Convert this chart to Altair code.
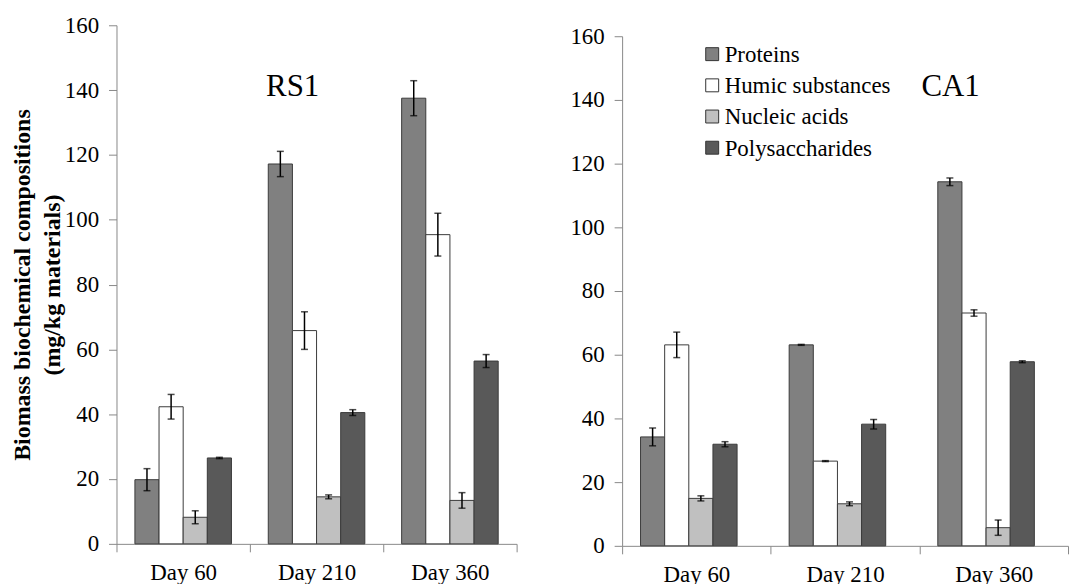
import altair as alt
import pandas as pd

days = ["Day 60", "Day 210", "Day 360"]
components = ["Proteins", "Humic substances", "Nucleic acids", "Polysaccharides"]
colors = ["#808080", "#ffffff", "#c0c0c0", "#595959"]

# RS1 means and standard errors (per component, for Day 60, 210, 360)
rs1_proteins = [19.8, 117.2, 137.5]
rs1_humic = [42.3, 65.8, 95.4]
rs1_nucleic = [8.2, 14.5, 13.4]
rs1_poly = [26.5, 40.5, 56.4]
rs1_proteins_err = [3.4, 3.9, 5.4]
rs1_humic_err = [3.8, 5.8, 6.6]
rs1_nucleic_err = [2.0, 0.6, 2.4]
rs1_poly_err = [0.2, 0.9, 2.0]

# CA1 means and standard errors
ca1_proteins = [34.2, 63.1, 114.3]
ca1_humic = [63.1, 26.6, 73.1]
ca1_nucleic = [14.9, 13.2, 5.7]
ca1_poly = [31.9, 38.2, 57.8]
ca1_proteins_err = [2.8, 0.15, 1.2]
ca1_humic_err = [4.0, 0.15, 1.0]
ca1_nucleic_err = [0.8, 0.6, 2.4]
ca1_poly_err = [0.8, 1.5, 0.3]

y_ticks = [0, 20, 40, 60, 80, 100, 120, 140, 160]

FONT = "Liberation Serif"

color_scale = alt.Scale(domain=components, range=colors)


def build_df(means, errs):
    rows = []
    for comp, m_list, e_list in zip(components, means, errs):
        for d, m, e in zip(days, m_list, e_list):
            rows.append({"day": d, "comp": comp, "value": m, "lo": m - e, "hi": m + e})
    return pd.DataFrame(rows)


rs1_df = build_df([rs1_proteins, rs1_humic, rs1_nucleic, rs1_poly],
                  [rs1_proteins_err, rs1_humic_err, rs1_nucleic_err, rs1_poly_err])
ca1_df = build_df([ca1_proteins, ca1_humic, ca1_nucleic, ca1_poly],
                  [ca1_proteins_err, ca1_humic_err, ca1_nucleic_err, ca1_poly_err])


def panel(df, label, label_x, label_y, width, height, y_range, pad_off, y_title):
    x_enc = alt.X("day:N", sort=days,
                  scale=alt.Scale(paddingInner=0, paddingOuter=0),
                  axis=alt.Axis(title=None, labelAngle=0, tickBand="extent", tickSize=8,
                                labelPadding=10))
    xo = alt.XOffset("comp:N", sort=components,
                     scale=alt.Scale(paddingInner=0, paddingOuter=pad_off))
    y_axis = alt.Axis(values=y_ticks, grid=False, tickSize=8, labelPadding=10,
                      title=y_title if y_title else None,
                      titleFontWeight="bold", titleFontSize=24, titleFont=FONT,
                      titleLineHeight=30, titlePadding=0, titleColor="black")
    y_scale = alt.Scale(domain=[0, 160], nice=False, range=y_range)
    base = alt.Chart(df)
    bars = base.mark_bar(stroke="#3a3a3a", strokeWidth=1).encode(
        x=x_enc, xOffset=xo,
        y=alt.Y("value:Q", scale=y_scale, axis=y_axis),
        color=alt.Color("comp:N", sort=components, scale=color_scale, legend=None),
    )
    rule = base.mark_rule(color="black", strokeWidth=1.5).encode(
        x=alt.X("day:N", sort=days), xOffset=xo,
        y="lo:Q", y2="hi:Q")
    cap_lo = base.mark_tick(color="black", thickness=1.5, size=7).encode(
        x=alt.X("day:N", sort=days), xOffset=xo, y="lo:Q")
    cap_hi = base.mark_tick(color="black", thickness=1.5, size=7).encode(
        x=alt.X("day:N", sort=days), xOffset=xo, y="hi:Q")
    txt = alt.Chart(pd.DataFrame({"label": [label]})).mark_text(
        font=FONT, fontSize=31, align="center", baseline="alphabetic", color="black"
    ).encode(text="label:N", x=alt.value(label_x), y=alt.value(label_y))
    return alt.layer(bars, rule, cap_lo, cap_hi, txt)


left = panel(rs1_df, "RS1", 177, 71, 402, 521, [521, 0], 0.763,
             ["Biomass biochemical compositions", "(mg/kg materials)"]
             ).properties(width=402, height=521)

right_main = panel(ca1_df, "CA1", 330, 71, 448, 523, [523, 11], 0.735, None)

# Hand-built legend (inside the CA1 panel)
legend_df = pd.DataFrame({"comp": components})
legend_y = alt.Y("comp:N", sort=components, axis=None,
                 scale=alt.Scale(type="point", domain=components, range=[29, 123], padding=0))
legend_sq = alt.Chart(legend_df).mark_square(
    size=169, stroke="#333333", strokeWidth=1, opacity=1
).encode(
    x=alt.value(90.5), y=legend_y,
    fill=alt.Fill("comp:N", sort=components, scale=color_scale, legend=None),
)
legend_txt = alt.Chart(legend_df).mark_text(
    font=FONT, fontSize=23, align="left", baseline="middle", color="black", dy=1
).encode(x=alt.value(103), y=legend_y, text="comp:N")
legend_layer = alt.layer(legend_sq, legend_txt)

right = alt.layer(right_main, legend_layer).resolve_scale(y="independent").properties(
    width=448, height=523)

chart = alt.hconcat(left, right, spacing=52).properties(
    padding={"left": 2, "top": 5, "right": 5, "bottom": 0}
).configure(font=FONT).configure_view(stroke=None).configure_axis(
    domainColor="#888888", tickColor="#888888", labelFont=FONT, labelFontSize=23,
    labelColor="black", grid=False
)

chart.save("out.html", embed_options={"renderer": "svg", "actions": False})
